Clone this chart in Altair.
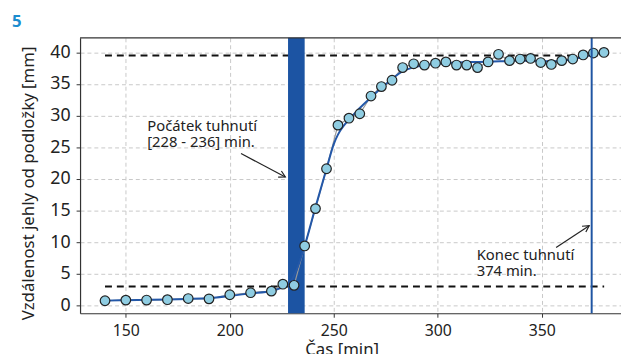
import altair as alt
import pandas as pd

# measured points
time = [140, 150, 160, 170, 180, 190, 200, 210, 220, 225.5, 230.9, 236.0, 241.2,
        246.5, 252.0, 257.3, 262.5, 267.9, 272.9, 278.0, 283.1, 288.4, 293.6, 298.9,
        303.9, 309.0, 313.9, 319.1, 324.2, 329.2, 334.5, 339.6, 344.6, 349.5, 354.6,
        359.6, 364.9, 369.9, 374.8, 379.9]
dist = [0.73, 0.83, 0.84, 0.9, 1.08, 1.03, 1.68, 2.0, 2.25, 3.35, 3.17, 9.4, 15.3,
        21.6, 28.5, 29.6, 30.3, 33.1, 34.6, 35.6, 37.6, 38.2, 38.0, 38.3,
        38.5, 38.0, 38.0, 37.6, 38.5, 39.7, 38.7, 38.95, 39.05, 38.4, 38.1,
        38.7, 38.95, 39.6, 39.9, 40.0]

# smoothed curve
curve_t = [140, 150, 160, 170, 180, 190, 200, 210, 220, 225, 228, 232, 236, 241, 246.5,
           250, 252, 255, 258, 262.5, 268, 273, 278, 283, 288, 294, 300, 310, 320, 330,
           340, 350, 358, 364, 370, 375, 380]
curve_d = [0.75, 0.82, 0.87, 0.93, 1.02, 1.17, 1.5, 1.9, 2.28, 2.8, 3.25, 5.5, 9.4, 15.3, 21.6,
           25.5, 27.0, 28.5, 29.6, 31.2, 32.9, 34.4, 35.8, 37.0, 37.6, 38.0, 38.2, 38.4, 38.5, 38.6,
           38.7, 38.6, 38.6, 38.9, 39.3, 39.7, 40.1]

dash_t = [140, 380, 140, 380]
dash_d = [39.5, 39.5, 3.0, 3.0]
dash_g = ["top", "top", "bottom", "bottom"]

band_start, band_end = 228, 236
end_time = 374

x_ticks = [150, 200, 250, 300, 350]
y_ticks = [0, 5, 10, 15, 20, 25, 30, 35, 40]

label_t = [160.3, 160.3, 318.7, 318.7]
label_d = [28.4, 25.8, 7.96, 5.35]
label_text = ["Počátek tuhnutí", "[228 - 236] min.", "Konec tuhnutí", "374 min."]

arrow_t = [205.4, 226.7, 356.9, 372.8]
arrow_d = [24.0, 20.3, 9.16, 12.6]
arrow_g = [1, 1, 2, 2]
head_t = [226.7, 372.8]
head_d = [20.3, 12.6]
head_angle = [117.8, 56.7]

FONT = "Noto Sans"
W, H = 548, 279

xs = alt.Scale(domain=[128, 388.1], nice=False, zero=False)
ys = alt.Scale(domain=[-1.25, 42.3], nice=False, zero=False)

pts = pd.DataFrame({"t": time, "d": dist})
curve = pd.DataFrame({"t": curve_t, "d": curve_d})
dash = pd.DataFrame({"t": dash_t, "d": dash_d, "g": dash_g})
band = pd.DataFrame({"t": [band_start], "t2": [band_end]})
vline = pd.DataFrame({"t": [end_time]})
labels = pd.DataFrame({"t": label_t, "d": label_d, "text": label_text})
arrows = pd.DataFrame({"t": arrow_t, "d": arrow_d, "g": arrow_g})
heads = pd.DataFrame({"t": head_t, "d": head_d, "ang": head_angle})
one = pd.DataFrame({"a": [0]})

xaxis = alt.Axis(values=x_ticks, title="Čas [min]", titleX=265, titleY=29,
                 titleBaseline="top", titleAlign="center", tickSize=4, labelPadding=6,
                 grid=True, labelOverlap=False, labelFontSize=16)
yaxis = alt.Axis(values=y_ticks,
                 title="Vzdálenost jehly od podložky [mm]", titleX=-52, titleY=147,
                 titleAlign="center", titleBaseline="middle", titleAngle=270,
                 tickSize=4, labelPadding=6, grid=True, labelOverlap=False, labelFontSize=18)

X = alt.X("t:Q", scale=xs, axis=xaxis)
Y = alt.Y("d:Q", scale=ys, axis=yaxis)

dash_layer = alt.Chart(dash).mark_line(color="#111", strokeWidth=2, strokeDash=[7, 5]).encode(
    x=X, y=Y, detail="g:N",
)

band_layer = alt.Chart(band).mark_rect(color="#1c54a3").encode(
    x=X, x2="t2:Q", y=alt.value(0), y2=alt.value(H),
)

raw_line = alt.Chart(pts).mark_line(color="#999999", strokeWidth=1.2).encode(x=X, y=Y)

curve_line = alt.Chart(curve).mark_line(color="#2458a8", strokeWidth=2,
                                        interpolate="monotone").encode(x=X, y=Y)

points = alt.Chart(pts).mark_point(filled=True, fill="#8fcde2", stroke="#222", strokeWidth=1.2,
                                   size=95, opacity=1, shape="circle").encode(x=X, y=Y)

vline_layer = alt.Chart(vline).mark_rule(color="#1f55a3", strokeWidth=2).encode(
    x=X, y=alt.value(0), y2=alt.value(H),
)

text_layer = alt.Chart(labels).mark_text(align="left", baseline="middle", fontSize=15,
                                         font=FONT, color="#222").encode(
    x=X, y=Y, text="text:N",
)

arrow_lines = alt.Chart(arrows).mark_line(color="#222", strokeWidth=1.2).encode(
    x=X, y=Y, detail="g:N",
)

arrow_heads = alt.Chart(heads).mark_point(shape="M -0.5 0.9 L 0 0 L 0.5 0.9", filled=False,
                                          stroke="#222", strokeWidth=1.2, size=200, opacity=1).encode(
    x=X, y=Y, angle=alt.Angle("ang:Q", scale=None),
)

top_frame = alt.Chart(one).mark_rule(color="#333", strokeWidth=1.2).encode(
    x=alt.value(0), x2=alt.value(W), y=alt.value(0),
)

panel_label = alt.Chart(one).mark_text(text="5", fontSize=17, fontWeight="bold", font=FONT,
                                       color="#1b8dcf").encode(
    x=alt.value(-64), y=alt.value(-16),
)

chart = alt.layer(
    dash_layer, band_layer, raw_line, curve_line, points, vline_layer,
    text_layer, arrow_lines, arrow_heads, top_frame, panel_label,
).properties(
    width=W, height=H,
    autosize=alt.AutoSizeParams(type="none"),
    padding={"left": 73, "top": 28, "right": 0, "bottom": 39},
).configure_axis(
    labelFont=FONT, titleFont=FONT, titleFontSize=17,
    titleFontWeight="normal", labelColor="#222", titleColor="#222",
    gridColor="#c8c8c8", gridDash=[4, 3], gridWidth=1,
    domainColor="#333", tickColor="#333", domainWidth=1.2,
).configure_view(strokeWidth=0)

chart.save("out.html", embed_options={"renderer": "svg", "actions": False})
